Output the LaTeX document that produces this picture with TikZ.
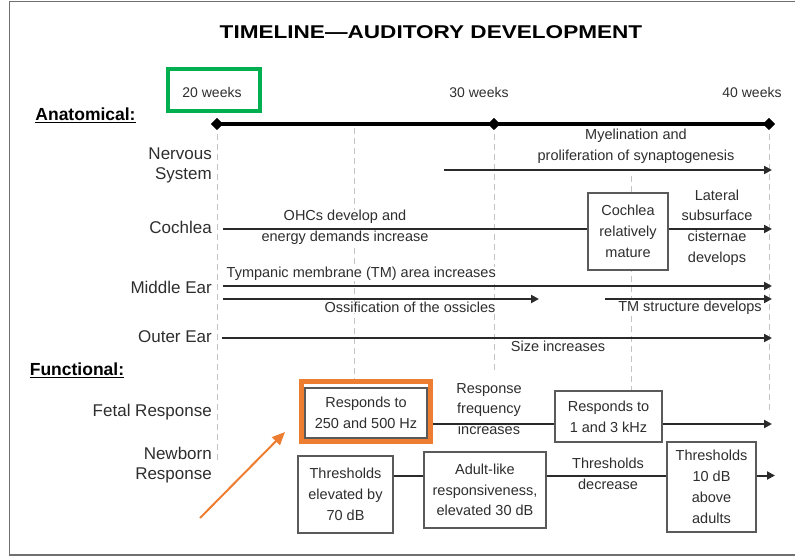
\documentclass[tikz,border=0pt]{standalone}
\usepackage{fontspec}
\usepackage{graphicx}
\setmainfont{Liberation Sans}
\usetikzlibrary{arrows.meta,shapes.geometric}
\definecolor{txt}{HTML}{2E2E2E}
\definecolor{grn}{HTML}{00B050}
\definecolor{org}{HTML}{ED7D31}
\definecolor{gridgray}{HTML}{C4C4C4}
\definecolor{boxgray}{HTML}{5A5A5A}
\definecolor{linegray}{HTML}{2A2A2A}
\definecolor{framegray}{HTML}{707070}
\begin{document}
\begin{tikzpicture}[x=1pt,y=-1pt,
  body/.style={font=\fontsize{14.5}{20.8}\selectfont, text=txt, inner sep=0.5pt, align=center, fill=white},
  lab/.style={font=\fontsize{17}{20.5}\selectfont, text=txt, inner sep=0pt, anchor=east, align=right},
  head/.style={font=\bfseries\fontsize{17.5}{20}\selectfont, text=black, inner sep=0pt},
  wk/.style={font=\fontsize{14}{16}\selectfont, text=txt, inner sep=0pt},
  box/.style={draw=boxgray, line width=1.4pt, fill=white, inner sep=0pt, align=center, text=txt, font=\fontsize{14.5}{20.8}\selectfont},
  tl/.style={line width=2pt, draw=linegray},
  arr/.style={tl, -{Triangle[length=8pt,width=8pt]}},
  gridln/.style={draw=gridgray, line width=0.9pt, dash pattern=on 6pt off 4pt},
  dmd/.style={diamond, fill=black, inner sep=0pt, minimum size=12pt},
  hl/.style={draw, fill=none, inner sep=0pt},
]
\useasboundingbox (0,0) rectangle (795,556);

% frame
\draw[framegray, line width=1pt] (800,2) -- (9,2) -- (9,555);
\draw[framegray, line width=2pt] (9,555) -- (800,555);

% title
\node[font=\bfseries\fontsize{18.5}{20}\selectfont, text=black, inner sep=0pt] (title) at (431,32)
  {\scalebox{1.22}[1]{TIMELINE—AUDITORY DEVELOPMENT}};

% week labels
\node[wk] (wk20) at (212,92) {20 weeks};
\node[wk] (wk30) at (479,92) {30 weeks};
\node[wk] (wk40) at (752,92) {40 weeks};

\node[head] (anat) at (85.5,115) {\underline{Anatomical:}};
\node[head] (func) at (77,370) {\underline{Functional:}};

% timeline diamonds
\node[dmd] (d20) at (217,124) {};
\node[dmd] (d30) at (494,124) {};
\node[dmd] (d40) at (769,124) {};

% grid coordinates
\coordinate (g1b) at (217,460);
\coordinate (g2t) at (354,128);
\coordinate (g2b) at (354,380);
\coordinate (g3b) at (494,372);
\coordinate (g4t) at (631,176);
\coordinate (g4b) at (631,390);
\coordinate (g5b) at (769,410);
\draw[gridln] (d20.center) -- (g1b);
\draw[gridln] (g2t) -- (g2b);
\draw[gridln] (d30.center) -- (g3b);
\draw[gridln] (g4t) -- (g4b);
\draw[gridln] (d40.center) -- (g5b);

% timeline
\draw[line width=3.5pt, black] (d20.center) -- (d30.center) -- (d40.center);
\node[dmd] at (d20) {};
\node[dmd] at (d30) {};
\node[dmd] at (d40) {};

% row labels
\node[lab] (lNerv) at (212,165.5) {Nervous\\System};
\node[lab] (lCoch) at (212,227) {Cochlea};
\node[lab] (lMid) at (212,287) {Middle Ear};
\node[lab] (lOut) at (212,337) {Outer Ear};
\node[lab] (lFetal) at (212,412) {Fetal Response};
\node[lab] (lNew) at (212,465) {Newborn\\Response};

% Nervous system
\coordinate (ns0) at (444,170);
\coordinate (ns1) at (772,170);
\node[body] (myel) at (636,146.5) {Myelination and\\proliferation of synaptogenesis};
\draw[arr] (ns0) -- (ns1);

% Cochlea
\coordinate (co0) at (223,229);
\coordinate (co1) at (772,229);
\node[body] (ohc) at (345,227.5) {OHCs develop and\\energy demands increase};
\node[body] (lat) at (717,227.5) {Lateral\\subsurface\\cisternae\\develops};
\node[box, minimum width=80pt, minimum height=77pt] (cm) at (628,231.5) {Cochlea\\relatively\\mature};
\draw[tl] (co0) -- (co0 -| cm.west);
\draw[arr] (co0 -| cm.east) -- (co1);

% Middle ear
\coordinate (me0) at (223,286);
\coordinate (me1) at (772,286);
\coordinate (me2) at (223,299);
\coordinate (me3) at (539,299);
\coordinate (tms0) at (605,299);
\coordinate (tms1) at (772,299);
\node[body, anchor=west] (tma) at (226,274) {Tympanic membrane (TM) area increases};
\node[body] (oss) at (410,307.5) {Ossification of the ossicles};
\node[body] (tms) at (690,307.5) {TM structure develops};
\draw[arr] (me0) -- (me1);
\draw[arr] (me2) -- (me3);
\draw[arr] (tms0) -- (tms1);

% Outer ear
\coordinate (oe0) at (222,338);
\coordinate (oe1) at (772,338);
\node[body] (size) at (558,346.5) {Size increases};
\draw[arr] (oe0) -- (oe1);

% Fetal response
\coordinate (fy) at (0,424);
\coordinate (f1) at (772,424);
\node[body] (rfi) at (489,409) {Response\\frequency\\increases};
\node[box, minimum width=122pt, minimum height=50pt] (fb1) at (366,413) {Responds to\\250 and 500 Hz};
\node[box, minimum width=107pt, minimum height=51pt] (fb2) at (608.5,416.5) {Responds to\\1 and 3 kHz};
\draw[tl] (fb1.east |- fy) -- (fb2.west |- fy);
\draw[arr] (fb2.east |- fy) -- (f1);

% Newborn response
\coordinate (ny) at (0,475.5);
\coordinate (n1) at (775,475.5);
\node[body] (thd) at (608,474) {Thresholds\\decrease};
\node[box, minimum width=95pt, minimum height=77pt] (nb1) at (345.5,494.5) {Thresholds\\elevated by\\70 dB};
\node[box, minimum width=122pt, minimum height=76pt] (nb2) at (485,490) {Adult-like\\responsiveness,\\elevated 30 dB};
\node[box, minimum width=89pt, minimum height=90pt] (nb3) at (711.5,487) {Thresholds\\10 dB\\above\\adults};
\draw[tl] (nb1.east |- ny) -- (nb2.west |- ny);
\draw[tl] (nb2.east |- ny) -- (nb3.west |- ny);
\draw[arr] (nb3.east |- ny) -- (n1);

% highlights
\node[hl, draw=grn, line width=4pt, minimum width=92pt, minimum height=42pt] (hl20) at (214,90) {};
\node[hl, draw=org, line width=5pt, minimum width=129pt, minimum height=60pt] (hlF) at (366,411.5) {};
\coordinate (oa0) at (200,518);
\coordinate (oa1) at (285,432);
\draw[org, line width=2pt, -{Triangle[length=13pt,width=11pt]}] (oa0) -- (oa1);
\end{tikzpicture}
\end{document}
